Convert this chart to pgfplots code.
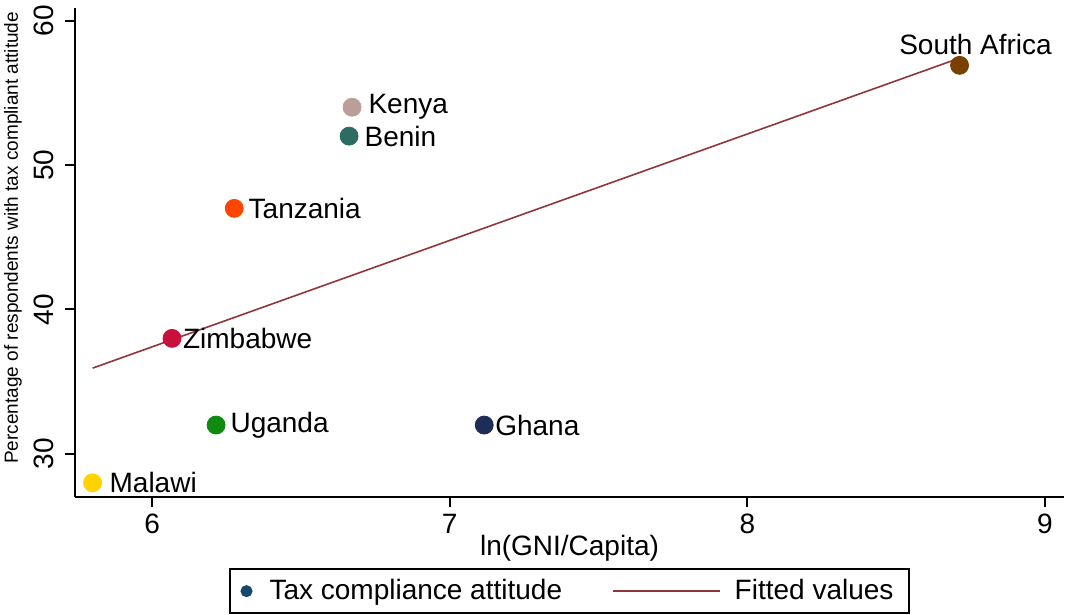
\documentclass[border=0pt]{standalone}
\usepackage{pgfplots}
\pgfplotsset{compat=1.18}
\usepackage{fontspec}
\setmainfont{Liberation Sans}
\definecolor{ckenya}{RGB}{188,158,152}
\definecolor{cbenin}{RGB}{46,107,96}
\definecolor{ctanz}{RGB}{255,69,0}
\definecolor{czim}{RGB}{200,16,58}
\definecolor{cuganda}{RGB}{16,138,16}
\definecolor{cmalawi}{RGB}{255,210,0}
\definecolor{cghana}{RGB}{30,45,85}
\definecolor{csa}{RGB}{122,64,0}
\definecolor{clegend}{RGB}{26,71,111}
\definecolor{cfit}{RGB}{144,53,59}
\pgfplotsset{fitlegend/.style={legend image code/.code={\draw[##1] (0pt,0pt) -- (53.5pt,0pt);}}}
\begin{document}
\begin{tikzpicture}
\begin{axis}[
  scale only axis,
  width=494.5pt, height=244.5pt,
  xmin=5.741, xmax=9.064,
  ymin=27.02, ymax=60.87,
  xtick={6,7,8,9}, ytick={30,40,50,60},
  axis x line*=bottom, axis y line*=left,
  axis line style={-, line width=1pt},
  tick align=outside, major tick length=5pt,
  tick style={line width=1pt, black},
  minor tick num=0,
  /pgf/number format/assume math mode=true,
  ticklabel style={font=\fontsize{14}{16}\selectfont},
  yticklabel style={rotate=90, anchor=south, inner ysep=5.5pt},
  xlabel={ln(GNI/Capita)},
  ylabel={Percentage of respondents with tax compliant attitude},
  every axis x label/.style={at={(axis description cs:0.5,0)}, yshift=-25.5pt, anchor=center, font=\fontsize{14}{16}\selectfont},
  every axis y label/.style={at={(axis description cs:0,0.53)}, xshift=-31pt, rotate=90, anchor=center, font=\fontsize{9.5}{11}\selectfont},
  legend columns=2,
  legend style={at={(axis description cs:0.5,0)}, anchor=north, yshift=-35.5pt,
    draw=black, line width=1pt, font=\fontsize{14}{16}\selectfont,
    inner xsep=6pt, inner ysep=3.25pt,
    /tikz/column 1/.style={column sep=7pt},
    /tikz/column 2/.style={column sep=23pt},
    /tikz/column 3/.style={column sep=5pt}},
  clip=false,
]
\coordinate (O) at (rel axis cs:0,0);
\addlegendimage{only marks, mark=*, mark size=2.5pt, color=clegend}
\addlegendentry{Tax compliance attitude}
\addlegendimage{line width=0.8pt, color=cfit, fitlegend}
\addlegendentry{Fitted values\hspace{1.5pt}}
% fitted line
\addplot[line width=0.8pt, color=cfit, forget plot] coordinates {(5.80,35.94) (8.713,57.40)};
% points
\addplot[only marks, mark=*, mark size=4.5pt, color=cmalawi, forget plot] coordinates {(5.80,28)};
\addplot[only marks, mark=*, mark size=4.5pt, color=czim, forget plot] coordinates {(6.067,38)};
\addplot[only marks, mark=*, mark size=4.5pt, color=cuganda, forget plot] coordinates {(6.215,32)};
\addplot[only marks, mark=*, mark size=4.5pt, color=ctanz, forget plot] coordinates {(6.276,47)};
\addplot[only marks, mark=*, mark size=4.5pt, color=cbenin, forget plot] coordinates {(6.662,52)};
\addplot[only marks, mark=*, mark size=4.5pt, color=ckenya, forget plot] coordinates {(6.672,54)};
\addplot[only marks, mark=*, mark size=4.5pt, color=cghana, forget plot] coordinates {(7.116,32)};
\addplot[only marks, mark=*, mark size=4.5pt, color=csa, forget plot] coordinates {(8.713,56.9)};
% labels
\begin{scope}[every node/.style={font=\fontsize{14}{16}\selectfont}]
\node[anchor=west, xshift=5pt] at (axis cs:5.80,28) {Malawi};
\node[anchor=west, xshift=2pt] at (axis cs:6.067,38) {Zimbabwe};
\node[anchor=west, xshift=3.7pt] at (axis cs:6.215,32) {Uganda};
\node[anchor=west, xshift=3.7pt] at (axis cs:6.276,47) {Tanzania};
\node[anchor=west, xshift=4.2pt] at (axis cs:6.662,52) {Benin};
\node[anchor=west, xshift=4.7pt] at (axis cs:6.672,54) {Kenya};
\node[anchor=west, xshift=2pt] at (axis cs:7.116,32) {Ghana};
\node[anchor=base, xshift=8pt, yshift=5.5pt] at (axis cs:8.713,56.9) {South Africa};
\end{scope}
\end{axis}
\pgfresetboundingbox
\path[use as bounding box] (O) ++(-37.5pt,-59pt) rectangle ++(532.5pt,307.5pt);
\end{tikzpicture}
\end{document}
